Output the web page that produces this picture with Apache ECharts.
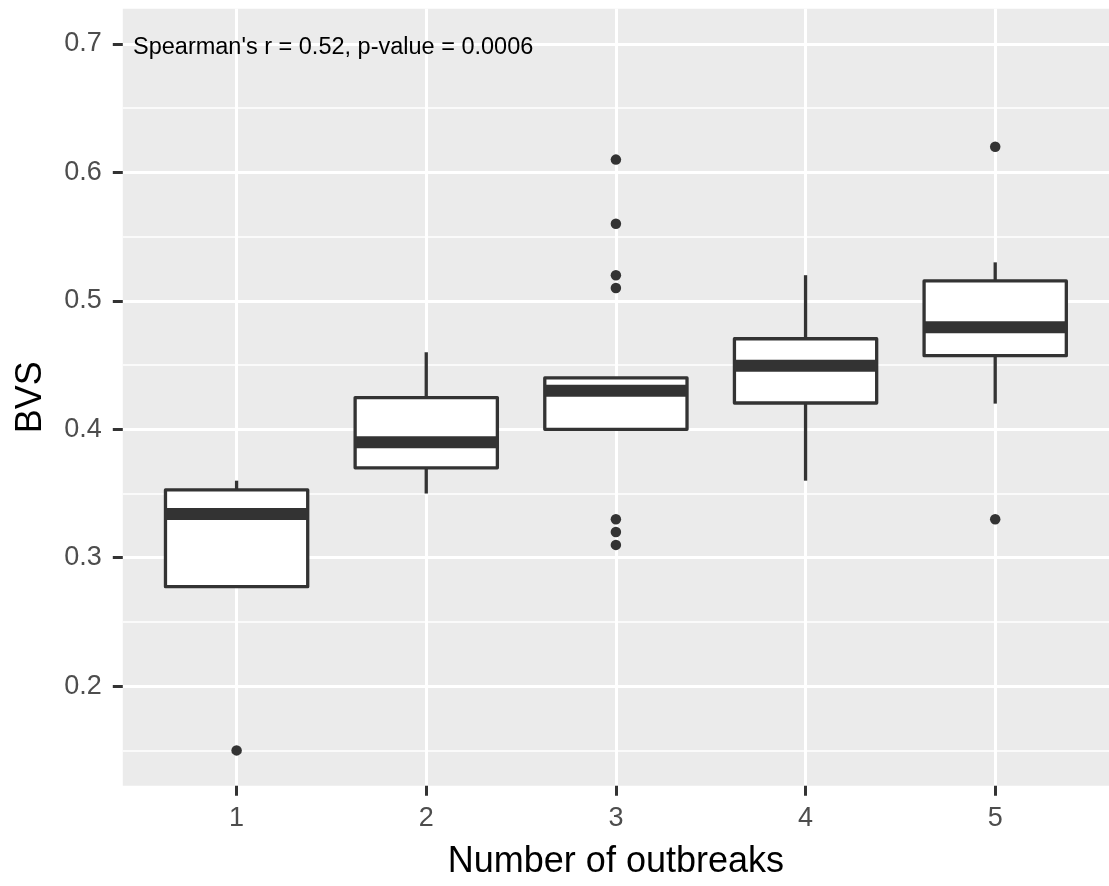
<!DOCTYPE html>
<html>
<head>
<meta charset="utf-8">
<script src="https://cdn.jsdelivr.net/npm/echarts@6/dist/echarts.min.js"></script>
<style>
html,body{margin:0;padding:0;background:#fff;}
#chart{width:1109px;height:886px;}
</style>
</head>
<body>
<div id="chart"></div>
<script>
// ---- data ----
const categories = ['1', '2', '3', '4', '5'];
const lowerWhisker = [0.2775, 0.35, 0.40, 0.36, 0.42];
const q1 = [0.2775, 0.370, 0.40, 0.4205, 0.4573];
const median = [0.334, 0.39, 0.43, 0.4495, 0.4795];
const q3 = [0.3528, 0.4247, 0.44, 0.4705, 0.5155];
const upperWhisker = [0.36, 0.46, 0.44, 0.52, 0.53];
const outlierCat = [1, 3, 3, 3, 3, 3, 3, 3, 5, 5];
const outlierVal = [0.15, 0.61, 0.56, 0.52, 0.51, 0.33, 0.32, 0.31, 0.62, 0.33];
const yTicks = [0.2, 0.3, 0.4, 0.5, 0.6, 0.7];
const yMinor = [0.15, 0.25, 0.35, 0.45, 0.55, 0.65];
const annotation = "Spearman's r = 0.52, p-value = 0.0006";
const xTitle = 'Number of outbreaks';
const yTitle = 'BVS';

// ---- build ----
const xPos = categories.map((c, i) => i + 1);
const boxData = categories.map((c, i) => [xPos[i], lowerWhisker[i], q1[i], median[i], q3[i], upperWhisker[i]]);
const outlierData = outlierCat.map((c, i) => [c, outlierVal[i]]);

const FONT = '"Liberation Sans", Arial, sans-serif';
const DARK = '#333333';
const Y_MIN = 0.1225, Y_MAX = 0.7275;
const X_MIN = 0.4, X_MAX = 5.6;

const chart = echarts.init(document.getElementById('chart'), null, {renderer: 'canvas'});

function renderBox(params, api) {
  const x = api.value(0);
  const lo = api.coord([x, api.value(1)]);
  const b1 = api.coord([x, api.value(2)]);
  const md = api.coord([x, api.value(3)]);
  const b3 = api.coord([x, api.value(4)]);
  const hi = api.coord([x, api.value(5)]);
  const half = api.size([0.75, 0])[0] / 2;
  const cx = lo[0];
  const lw = 3.3;
  return {
    type: 'group',
    children: [
      {type: 'line', shape: {x1: cx, y1: b3[1], x2: cx, y2: hi[1]}, style: {stroke: DARK, lineWidth: lw}},
      {type: 'line', shape: {x1: cx, y1: b1[1], x2: cx, y2: lo[1]}, style: {stroke: DARK, lineWidth: lw}},
      {type: 'rect', shape: {x: cx - half, y: b3[1], width: half * 2, height: b1[1] - b3[1]},
        style: {fill: '#ffffff', stroke: DARK, lineWidth: lw, lineJoin: 'round'}},
      {type: 'line', shape: {x1: cx - half, y1: md[1], x2: cx + half, y2: md[1]}, style: {stroke: DARK, lineWidth: 12}}
    ]
  };
}

const option = {
  animation: false,
  backgroundColor: '#ffffff',
  textStyle: {fontFamily: FONT},
  title: {
    text: annotation,
    left: 133,
    top: 36,
    padding: 0,
    textStyle: {fontFamily: FONT, fontSize: 23.5, fontWeight: 'normal', color: '#000000'}
  },
  grid: {
    left: 122.8, right: -1.2, top: 8.7, bottom: 100.3,
    show: true, backgroundColor: '#EBEBEB', borderWidth: 0
  },
  xAxis: {
    type: 'value', min: X_MIN, max: X_MAX,
    name: xTitle, nameLocation: 'middle', nameGap: 58,
    nameTextStyle: {fontFamily: FONT, fontSize: 36, color: '#000000'},
    axisLine: {show: false},
    axisTick: {show: true, length: 10, customValues: xPos, lineStyle: {color: DARK, width: 3}},
    axisLabel: {customValues: xPos, margin: 19, fontFamily: FONT, fontSize: 27, color: '#4D4D4D',
      formatter: v => categories[Math.round(v) - 1]},
    splitLine: {show: true, lineStyle: {color: '#ffffff', width: 3}}
  },
  yAxis: [
    {
      type: 'value', min: Y_MIN, max: Y_MAX,
      name: yTitle, nameLocation: 'middle', nameGap: 74, nameRotate: 90,
      nameTextStyle: {fontFamily: FONT, fontSize: 36, color: '#000000'},
      axisLine: {show: false},
      axisTick: {show: true, length: 10, customValues: yTicks, lineStyle: {color: DARK, width: 3}},
      axisLabel: {customValues: yTicks, margin: 21, fontFamily: FONT, fontSize: 27, color: '#4D4D4D',
        formatter: v => v.toFixed(1)},
      splitLine: {show: true, lineStyle: {color: '#ffffff', width: 3}}
    },
    {
      type: 'value', min: Y_MIN, max: Y_MAX, position: 'left',
      axisLine: {show: false},
      axisTick: {show: false, customValues: yMinor},
      axisLabel: {show: false, customValues: yMinor},
      splitLine: {show: true, lineStyle: {color: '#ffffff', width: 1.5}}
    }
  ],
  series: [
    {
      type: 'custom',
      name: 'box',
      xAxisIndex: 0, yAxisIndex: 0,
      data: boxData,
      encode: {x: 0, y: [1, 2, 3, 4, 5]},
      renderItem: renderBox,
      z: 2
    },
    {
      type: 'scatter',
      name: 'outliers',
      xAxisIndex: 0, yAxisIndex: 0,
      data: outlierData,
      symbol: 'circle',
      symbolSize: 10.5,
      itemStyle: {color: DARK, opacity: 1},
      z: 3
    }
  ]
};
chart.setOption(option);
</script>
</body>
</html>
